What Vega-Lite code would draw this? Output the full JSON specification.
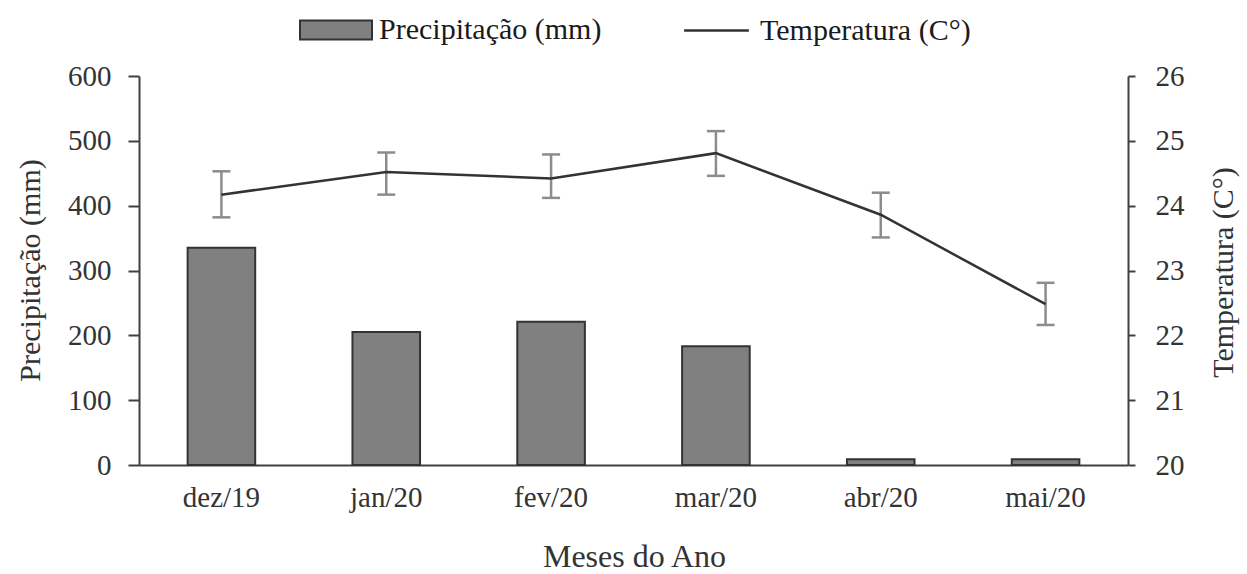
{
  "$schema": "https://vega.github.io/schema/vega-lite/v6.json",
  "width": 989,
  "height": 389,
  "autosize": "none",
  "padding": {"left": 139, "top": 76, "right": 119, "bottom": 109},
  "background": "white",
  "data": {
    "values": [
      {"mes": "dez/19", "prec": 335, "temp": 24.17, "tlo": 23.82, "thi": 24.53},
      {"mes": "jan/20", "prec": 205, "temp": 24.52, "tlo": 24.17, "thi": 24.82},
      {"mes": "fev/20", "prec": 221, "temp": 24.42, "tlo": 24.12, "thi": 24.79},
      {"mes": "mar/20", "prec": 183, "temp": 24.81, "tlo": 24.46, "thi": 25.15},
      {"mes": "abr/20", "prec": 9, "temp": 23.86, "tlo": 23.51, "thi": 24.2},
      {"mes": "mai/20", "prec": 9, "temp": 22.48, "tlo": 22.16, "thi": 22.81}
    ]
  },
  "layer": [
    {
      "mark": {"type": "bar", "width": {"band": 0.41}, "stroke": "#333333", "strokeWidth": 2},
      "encoding": {
        "x": {"field": "mes", "type": "nominal", "sort": null, "title": "Meses do Ano", "scale": {"paddingInner": 0, "paddingOuter": 0}},
        "y": {"field": "prec", "type": "quantitative", "title": "Precipitação (mm)", "scale": {"domain": [0, 600]}, "axis": {"orient": "left", "values": [0, 100, 200, 300, 400, 500, 600]}},
        "fill": {
          "datum": "Precipitação (mm)",
          "type": "nominal",
          "scale": {"range": ["#808080"]},
          "legend": {
            "orient": "none",
            "legendX": 160,
            "legendY": -83,
            "title": null,
            "padding": 0,
            "symbolSize": 5184,
            "symbolType": "M-1,-0.264H1V0.264H-1Z",
            "symbolStrokeColor": "#333333",
            "symbolStrokeWidth": 2,
            "symbolOpacity": 1,
            "labelOffset": 6,
            "labelFont": "Liberation Serif",
            "labelFontSize": 30,
            "labelColor": "#1a1a1a",
            "labelLimit": 0
          }
        }
      }
    },
    {
      "layer": [
        {
          "mark": {"type": "rule", "color": "#8c8c8c", "strokeWidth": 2.5},
          "encoding": {
            "x": {"field": "mes", "type": "nominal", "sort": null, "title": "Meses do Ano"},
            "y": {"field": "tlo", "type": "quantitative", "title": "Temperatura (C°)", "scale": {"domain": [20, 26]}, "axis": {"orient": "right", "values": [20, 21, 22, 23, 24, 25, 26], "format": "d"}},
            "y2": {"field": "thi"}
          }
        },
        {
          "mark": {"type": "tick", "color": "#8c8c8c", "size": 18, "thickness": 2.5, "opacity": 1, "orient": "horizontal"},
          "encoding": {
            "x": {"field": "mes", "type": "nominal", "sort": null, "title": "Meses do Ano"},
            "y": {"field": "tlo", "type": "quantitative", "title": "Temperatura (C°)"}
          }
        },
        {
          "mark": {"type": "tick", "color": "#8c8c8c", "size": 18, "thickness": 2.5, "opacity": 1, "orient": "horizontal"},
          "encoding": {
            "x": {"field": "mes", "type": "nominal", "sort": null, "title": "Meses do Ano"},
            "y": {"field": "thi", "type": "quantitative", "title": "Temperatura (C°)"}
          }
        },
        {
          "mark": {"type": "line", "strokeWidth": 2.5},
          "encoding": {
            "x": {"field": "mes", "type": "nominal", "sort": null, "title": "Meses do Ano"},
            "y": {"field": "temp", "type": "quantitative", "title": "Temperatura (C°)"},
            "stroke": {
              "datum": "Temperatura (C°)",
              "type": "nominal",
              "scale": {"range": ["#333333"]},
              "legend": {
                "orient": "none",
                "legendX": 540,
                "legendY": -83,
                "title": null,
                "padding": 0,
                "symbolSize": 5184,
                "symbolType": "M-0.9,0H0.9",
                "symbolStrokeWidth": 2.5,
                "symbolOpacity": 1,
                "labelOffset": 6,
                "labelFont": "Liberation Serif",
                "labelFontSize": 30,
                "labelColor": "#1a1a1a",
                "labelLimit": 0
              }
            }
          }
        }
      ]
    }
  ],
  "resolve": {"scale": {"y": "independent"}},
  "config": {
    "font": "Liberation Serif",
    "view": {"stroke": null},
    "axis": {
      "grid": false,
      "domainColor": "#404040",
      "domainWidth": 2,
      "tickColor": "#404040",
      "tickWidth": 2,
      "labelFont": "Liberation Serif",
      "labelFontSize": 29,
      "labelColor": "#333333",
      "titleFont": "Liberation Serif",
      "titleFontSize": 30,
      "titleColor": "#333333",
      "titleFontWeight": "normal"
    },
    "axisBottom": {
      "ticks": false,
      "labelAngle": 0,
      "labelPadding": 18,
      "titleFontSize": 32,
      "titleX": 495,
      "titleY": 91,
      "titleBaseline": "middle",
      "titleAlign": "center"
    },
    "axisLeft": {
      "tickSize": 11,
      "labelPadding": 17,
      "titleX": -109,
      "titleY": 194,
      "titleAngle": 270,
      "titleAlign": "center",
      "titleBaseline": "middle"
    },
    "axisRight": {
      "tickSize": 7,
      "labelPadding": 20,
      "titleX": 95,
      "titleY": 196,
      "titleAngle": 270,
      "titleAlign": "center",
      "titleBaseline": "middle"
    }
  }
}
